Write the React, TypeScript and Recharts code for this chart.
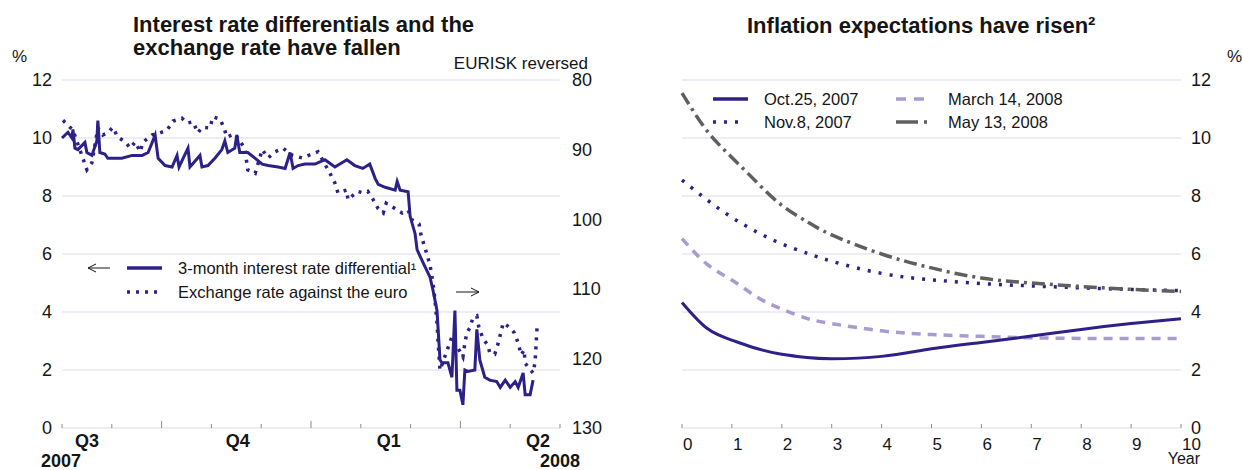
import { LineChart, Line, XAxis, YAxis, CartesianGrid } from 'recharts'

const FONT = '"Liberation Sans", Arial, Helvetica, sans-serif'
const NAVY = '#2c2188'
const LILAC = '#a99bd0'
const GREY = '#5f5f5f'
const GRID = '#dddbef'
const TICK = '#8a8a8a'
const INK = '#151515'

// left panel, x = months since 1 Aug 2007
const monthTicks = [0, 1, 2, 3, 4, 5, 6, 7, 8, 9, 10]
const quarterStarts = [2, 5, 8]
const quarterLabels = ['Q3', 'Q4', 'Q1', 'Q2']
const quarterPos = [0.5, 3.53, 6.56, 9.56]
const yearLabels = ['2007', '2008']
const pctTicks = [0, 2, 4, 6, 8, 10, 12]
const eurTicks = [80, 90, 100, 110, 120, 130]

// 3-month interest rate differential, % (left axis)
const diffT = [
  0, 0.12, 0.2, 0.22, 0.26, 0.32, 0.46, 0.5, 0.6, 0.7, 0.72, 0.76, 0.86, 0.92, 1.2, 1.41, 1.61, 1.73, 1.87, 1.93,
  2.07, 2.21, 2.31, 2.35, 2.53, 2.57, 2.77, 2.81, 2.93, 3.07, 3.21, 3.27, 3.33, 3.47, 3.51, 3.57, 3.61, 3.73, 3.88,
  4.02, 4.14, 4.34, 4.48, 4.58, 4.64, 4.74, 4.88, 5.08, 5.28, 5.48, 5.72, 5.88, 6.04, 6.18, 6.29, 6.35, 6.49, 6.69,
  6.73, 6.79, 6.95, 6.99, 7.09, 7.13, 7.25, 7.39, 7.45, 7.53, 7.59, 7.63, 7.75, 7.83, 7.89, 7.93, 7.99, 8.05, 8.09,
  8.15, 8.29, 8.33, 8.39, 8.49, 8.59, 8.73, 8.8, 8.9, 9.0, 9.1, 9.16, 9.26, 9.3, 9.4, 9.46,
]
const diffVal = [
  10.0, 10.2, 10.0, 10.3, 9.65, 9.6, 9.85, 9.5, 9.4, 9.9, 10.6, 9.5, 9.45, 9.3, 9.3, 9.4, 9.4, 9.5, 10.1, 9.3,
  9.05, 9.0, 9.4, 9.0, 9.65, 9.0, 9.4, 9.0, 9.05, 9.3, 9.6, 9.9, 9.5, 9.65, 10.1, 9.5, 9.5, 9.5, 9.3,
  9.1, 9.05, 9.0, 8.95, 9.5, 8.95, 9.05, 9.1, 9.1, 9.25, 9.0, 9.25, 9.05, 8.95, 9.1, 8.6, 8.4, 8.3, 8.2,
  8.5, 8.2, 8.15, 7.3, 6.7, 6.15, 5.7, 5.2, 4.75, 4.05, 2.35, 2.25, 2.25, 1.75, 4.05, 1.3, 1.3, 0.8, 2.0,
  1.95, 2.0, 3.4, 2.35, 1.75, 1.65, 1.6, 1.4, 1.65, 1.4, 1.6, 1.4, 1.9, 1.15, 1.15, 1.65,
]

// EURISK, exchange rate against the euro (right axis, reversed)
const eurT = [
  0.02, 0.22, 0.5, 0.6, 0.72, 0.82, 0.92, 1.02, 1.12, 1.27, 1.37, 1.47, 1.57, 1.63, 1.81, 1.93, 2.11, 2.23, 2.41,
  2.51, 2.63, 2.73, 2.81, 2.97, 3.03, 3.17, 3.25, 3.31, 3.47, 3.67, 3.73, 3.88, 4.02, 4.14, 4.28, 4.44, 4.62, 4.82,
  5.14, 5.38, 5.48, 5.54, 5.72, 5.74, 5.82, 5.94, 6.04, 6.14, 6.24, 6.35, 6.45, 6.51, 6.67, 6.83, 6.95, 7.03, 7.17,
  7.21, 7.33, 7.39, 7.45, 7.49, 7.53, 7.55, 7.59, 7.83, 8.05, 8.09, 8.13, 8.19, 8.25, 8.33, 8.37, 8.45, 8.55, 8.59,
  8.69, 8.76, 8.86, 9.0, 9.08, 9.16, 9.22, 9.28, 9.3, 9.46, 9.5, 9.54,
]
const eurVal = [
  85.8, 87.2, 92.9, 91.9, 86.9, 87.9, 87.6, 86.8, 88.2, 88.9, 89.8, 88.9, 90.3, 88.9, 87.9, 87.7, 87.2, 85.9, 85.5,
  86.2, 86.0, 87.6, 86.8, 86.9, 85.3, 85.6, 86.8, 88.2, 87.7, 89.8, 92.9, 93.4, 90.0, 91.2, 90.3, 89.8, 90.8, 91.2,
  90.3, 93.4, 94.8, 96.2, 95.8, 97.2, 96.7, 96.0, 96.2, 96.0, 97.1, 98.5, 99.1, 97.7, 98.4, 99.1, 98.7, 100.1, 100.7,
  102.3, 105.1, 106.6, 109.2, 111.6, 114.9, 117.4, 121.7, 116.9, 119.8, 117.8, 116.3, 115.6, 114.2, 113.9, 115.5,
  117.1, 118.1, 119.2, 119.4, 117.8, 114.9, 115.6, 116.3, 117.8, 119.5, 118.8, 120.7, 122.1, 120.5, 115.5,
]

// right panel, x = years ahead
const years = [0, 0.5, 1, 1.5, 2, 2.5, 3, 4, 5, 6, 7, 8, 9, 10]
const yearTicks = [0, 1, 2, 3, 4, 5, 6, 7, 8, 9, 10]
const oct25 = [4.33, 3.44, 3.03, 2.74, 2.54, 2.43, 2.39, 2.47, 2.73, 2.95, 3.17, 3.4, 3.6, 3.77]
const nov8 = [8.55, 7.87, 7.26, 6.76, 6.35, 6.03, 5.75, 5.33, 5.11, 4.98, 4.9, 4.83, 4.78, 4.74]
const mar14 = [6.53, 5.65, 5.1, 4.52, 4.1, 3.78, 3.6, 3.35, 3.22, 3.16, 3.11, 3.09, 3.09, 3.09]
const may13 = [11.55, 10.25, 9.33, 8.47, 7.68, 7.12, 6.66, 6.0, 5.52, 5.17, 5.0, 4.88, 4.78, 4.71]

const diffData = diffT.map((t, i) => ({ t, v: diffVal[i] }))
const eurData = eurT.map((t, i) => ({ t, v: eurVal[i] }))
const inflData = years.map((y, i) => ({ y, oct25: oct25[i], nov8: nov8[i], mar14: mar14[i], may13: may13[i] }))

function MonthTick(props: any) {
  const { x, y, payload } = props
  const v = payload.value
  const qi = quarterPos.indexOf(v)
  if (qi >= 0) {
    return (
      <g>
        <text x={x} y={y + 19} textAnchor="middle" fontSize={18} fontWeight="bold" fill={INK}>
          {quarterLabels[qi]}
        </text>
        {qi === 0 && (
          <text x={x - 26} y={y + 39} textAnchor="middle" fontSize={18} fontWeight="bold" fill={INK}>
            {yearLabels[0]}
          </text>
        )}
        {qi === quarterLabels.length - 1 && (
          <text x={x + 22} y={y + 39} textAnchor="middle" fontSize={18} fontWeight="bold" fill={INK}>
            {yearLabels[1]}
          </text>
        )}
      </g>
    )
  }
  const h = quarterStarts.includes(v) ? 7 : 4
  return <line x1={x} x2={x} y1={y} y2={y - h} stroke={TICK} strokeWidth={1} />
}

function YearTick(props: any) {
  const { x, y, payload } = props
  return (
    <g>
      <line x1={x} x2={x} y1={y} y2={y - 4} stroke={TICK} strokeWidth={1} />
      <text x={x + 1} y={y + 22} textAnchor="start" fontSize={17} fill={INK}>
        {payload.value}
      </text>
      {payload.value === 10 && (
        <text x={x + 19} y={y + 36} textAnchor="end" fontSize={16} fill={INK}>
          Year
        </text>
      )}
    </g>
  )
}

const axisText = { fill: INK, fontSize: 18 }

export default function App() {
  return (
    <div style={{ position: 'absolute', left: 0, top: 0, width: 1242, height: 470, background: '#fff', fontFamily: FONT, overflow: 'hidden' }}>
      <div style={{ position: 'absolute', left: 0, top: 0 }}>
        <LineChart width={620} height={470} margin={{ top: 80, right: 0, bottom: 0, left: 12 }}>
          <CartesianGrid yAxisId="l" vertical={false} stroke={GRID} />
          <XAxis
            dataKey="t"
            type="number"
            domain={[0, 10]}
            ticks={[...monthTicks, ...quarterPos]}
            interval={0}
            height={42}
            tickSize={0}
            tickMargin={0}
            axisLine={false}
            tickLine={false}
            tick={<MonthTick />}
          />
          <YAxis yAxisId="l" domain={[0, 12]} ticks={pctTicks} width={50} tickSize={0} tickMargin={10} axisLine={false} tickLine={false} tick={axisText} />
          <YAxis
            yAxisId="r"
            orientation="right"
            reversed
            domain={[80, 130]}
            ticks={eurTicks}
            width={60}
            tickSize={0}
            tickMargin={12}
            axisLine={false}
            tickLine={false}
            tick={axisText}
          />
          <Line yAxisId="r" data={eurData} dataKey="v" type="linear" stroke={NAVY} strokeWidth={3.5} strokeDasharray="3 6" dot={false} isAnimationActive={false} />
          <Line yAxisId="l" data={diffData} dataKey="v" type="linear" stroke={NAVY} strokeWidth={3} dot={false} isAnimationActive={false} />
        </LineChart>
      </div>

      <div style={{ position: 'absolute', left: 620, top: 0 }}>
        <LineChart width={622} height={470} data={inflData} margin={{ top: 80, right: 0, bottom: 0, left: 62 }}>
          <CartesianGrid vertical={false} stroke={GRID} />
          <XAxis
            dataKey="y"
            type="number"
            domain={[0, 10]}
            ticks={yearTicks}
            interval={0}
            height={42}
            tickSize={0}
            tickMargin={0}
            axisLine={false}
            tickLine={false}
            tick={<YearTick />}
          />
          <YAxis orientation="right" domain={[0, 12]} ticks={pctTicks} width={61} tickSize={0} tickMargin={10} axisLine={false} tickLine={false} tick={axisText} />
          <Line dataKey="mar14" type="natural" stroke={LILAC} strokeWidth={3.5} strokeDasharray="9 7" dot={false} isAnimationActive={false} />
          <Line dataKey="oct25" type="natural" stroke={NAVY} strokeWidth={3} dot={false} isAnimationActive={false} />
          <Line dataKey="nov8" type="natural" stroke={NAVY} strokeWidth={3.5} strokeDasharray="3 8" dot={false} isAnimationActive={false} />
          <Line dataKey="may13" type="natural" stroke={GREY} strokeWidth={3.5} strokeDasharray="13 5 3 5" dot={false} isAnimationActive={false} />
        </LineChart>
      </div>

      <svg width={1242} height={470} style={{ position: 'absolute', left: 0, top: 0, pointerEvents: 'none' }}>
        <g fill={INK}>
          <text x={133} y={32} fontSize={22} fontWeight="bold">Interest rate differentials and the</text>
          <text x={133} y={55} fontSize={22} fontWeight="bold">exchange rate have fallen</text>
          <text x={12} y={62} fontSize={17}>%</text>
          <text x={588} y={69} fontSize={17} textAnchor="end">EURISK reversed</text>

          <text x={747} y={33} fontSize={22} fontWeight="bold">Inflation expectations have risen²</text>
          <text x={1227} y={62} fontSize={17}>%</text>
        </g>

        {/* left legend */}
        <path d="M110 268 H88 M96 264 L88 268 L96 272" stroke={INK} strokeWidth={1} fill="none" />
        <line x1={127} x2={162} y1={268} y2={268} stroke={NAVY} strokeWidth={3.5} />
        <text x={178} y={274} fontSize={16.5} fill={INK}>3-month interest rate differential¹</text>
        <line x1={127} x2={157} y1={292} y2={292} stroke={NAVY} strokeWidth={3.5} strokeDasharray="3 6" />
        <text x={178} y={298} fontSize={16.5} fill={INK}>Exchange rate against the euro</text>
        <path d="M456 292 H479 M471 288 L479 292 L471 296" stroke={INK} strokeWidth={1} fill="none" />

        {/* right legend */}
        <line x1={713} x2={748} y1={99} y2={99} stroke={NAVY} strokeWidth={3.5} />
        <text x={764} y={105} fontSize={16.5} fill={INK}>Oct.25, 2007</text>
        <line x1={713} x2={745} y1={122} y2={122} stroke={NAVY} strokeWidth={3.5} strokeDasharray="3 8" />
        <text x={764} y={128} fontSize={16.5} fill={INK}>Nov.8, 2007</text>
        <line x1={896} x2={930} y1={99} y2={99} stroke={LILAC} strokeWidth={3.5} strokeDasharray="10 8" />
        <text x={948} y={105} fontSize={16.5} fill={INK}>March 14, 2008</text>
        <line x1={896} x2={930} y1={122} y2={122} stroke={GREY} strokeWidth={3.5} strokeDasharray="22 6 3 6" />
        <text x={948} y={128} fontSize={16.5} fill={INK}>May 13, 2008</text>
      </svg>
    </div>
  )
}
